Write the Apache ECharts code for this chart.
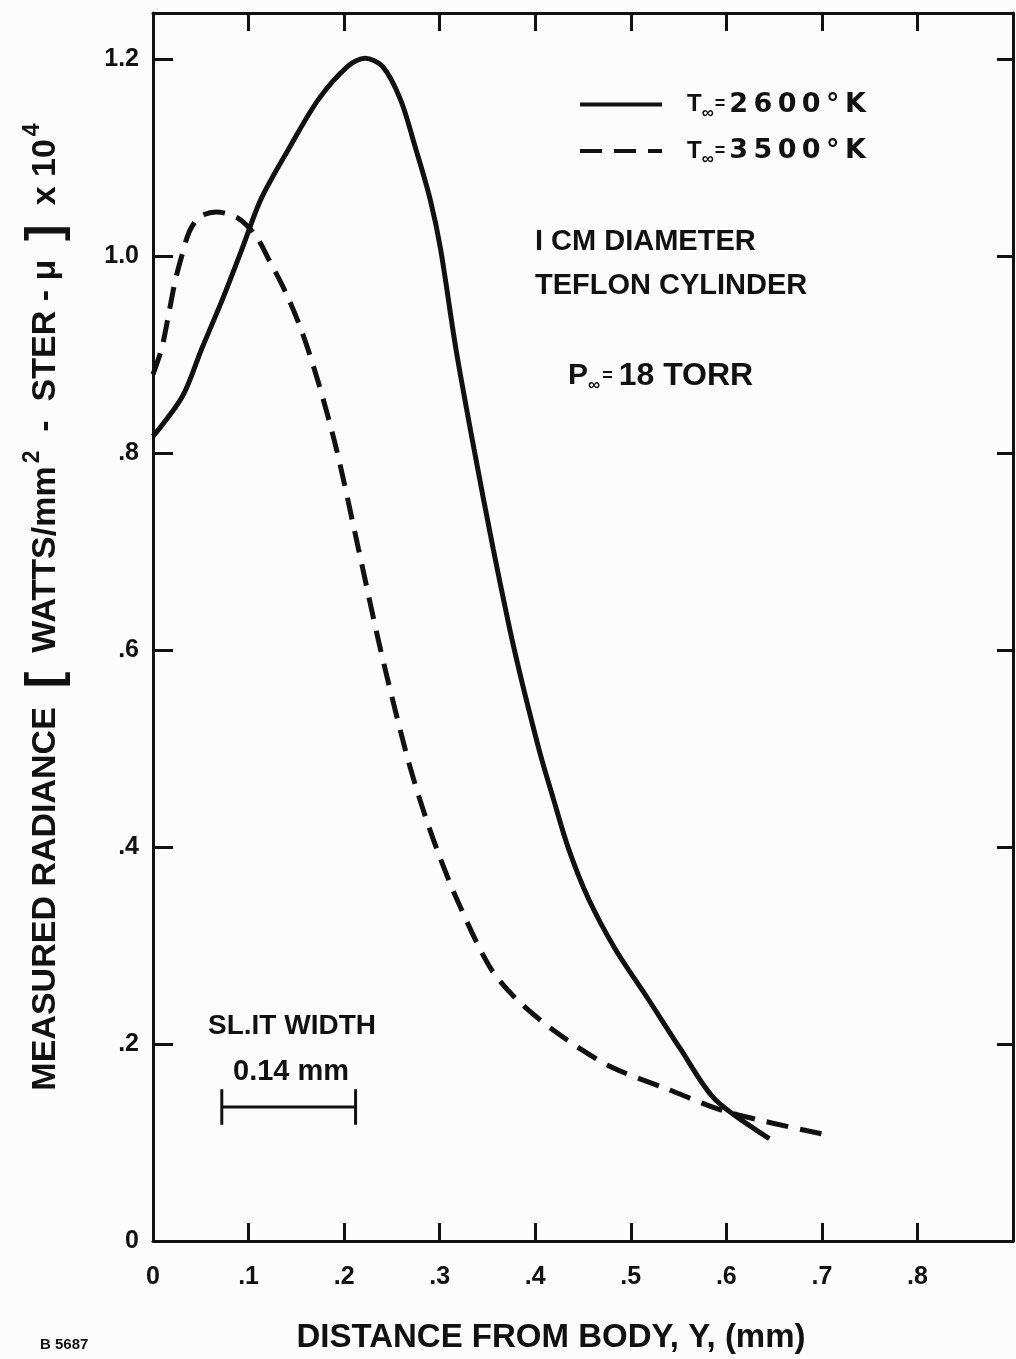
<!DOCTYPE html>
<html>
<head>
<meta charset="utf-8">
<script src="https://cdn.jsdelivr.net/npm/echarts@6/dist/echarts.min.js"></script>
<style>
html,body{margin:0;padding:0;background:#fcfcfc;}
#chart{width:1016px;height:1359px;}
</style>
</head>
<body>
<div id="chart"></div>
<script>
// T = 2600 K (solid)
var dist2600 = [0, 0.031, 0.051, 0.073, 0.093, 0.113, 0.142, 0.173, 0.204, 0.222, 0.240, 0.259, 0.275, 0.290, 0.301, 0.317, 0.336, 0.356, 0.378, 0.404, 0.419, 0.435, 0.456, 0.484, 0.518, 0.552, 0.588, 0.645];
var rad2600  = [0.817, 0.858, 0.906, 0.957, 1.007, 1.058, 1.109, 1.159, 1.193, 1.201, 1.193, 1.159, 1.109, 1.058, 1.007, 0.906, 0.804, 0.703, 0.601, 0.499, 0.449, 0.398, 0.347, 0.296, 0.246, 0.195, 0.144, 0.104];
// T = 3500 K (dashed)
var dist3500 = [0, 0.009, 0.016, 0.023, 0.030, 0.038, 0.049, 0.066, 0.090, 0.108, 0.121, 0.139, 0.156, 0.173, 0.192, 0.215, 0.238, 0.264, 0.279, 0.297, 0.318, 0.352, 0.380, 0.422, 0.477, 0.539, 0.601, 0.709];
var rad3500  = [0.880, 0.906, 0.939, 0.974, 1.000, 1.025, 1.040, 1.045, 1.038, 1.020, 0.997, 0.963, 0.923, 0.872, 0.804, 0.703, 0.601, 0.499, 0.449, 0.398, 0.347, 0.279, 0.246, 0.212, 0.178, 0.154, 0.131, 0.107];
// slit width bar, 0.14 mm
var slitFrom = 0.072;
var slitTo = 0.212;
var slitLevel = 0.136;
var slitCap = 0.018;

var seriesNames = ['T∞ 2600', 'T∞ 3500'];
var legendText = {'T∞ 2600': '2\u20096\u20090\u20090\u2009°\u2009K', 'T∞ 3500': '3\u20095\u20090\u20090\u2009°\u2009K'};

function zip(xs, ys){
    var out = [];
    for (var i = 0; i < xs.length; i++) out.push([xs[i], ys[i]]);
    return out;
}
function tickFmt(v){
    if (v === 0) return '0';
    var s = v.toFixed(1);
    return v < 1 ? s.replace('0.', '.') : s;
}

var slitData = [
    [slitFrom, slitLevel + slitCap], [slitFrom, slitLevel - slitCap], '-',
    [slitFrom, slitLevel], [slitTo, slitLevel], '-',
    [slitTo, slitLevel + slitCap], [slitTo, slitLevel - slitCap]
];

var font = 'Liberation Sans';
var wide = 'DejaVu Sans';
var ink = '#111';
function fs(size, extra){
    var o = {fontSize:size, fontWeight:'bold', fontFamily:font, color:ink};
    for (var k in extra) o[k] = extra[k];
    return o;
}
function gfs(size, extra){
    var o = fs(size, extra);
    o.fill = ink;
    delete o.color;
    return o;
}
function txt(x, y, t, size){
    return {type:'text', left:x, top:y, style:{text:t, fontSize:size || 24, fontWeight:'bold', fontFamily:font, fill:ink}};
}

var myChart = echarts.init(document.getElementById('chart'));
myChart.setOption({
    backgroundColor:'#fcfcfc',
    animation:false,
    grid:{left:153, top:13, width:868, height:1229},
    legend:{
        data:seriesNames,
        orient:'vertical', left:573, top:86, itemGap:16,
        itemWidth:82, itemHeight:24,
        itemStyle:{opacity:0},
        lineStyle:{width:4},
        formatter:function(n){ return '{t|T}{s|∞}{e|=}{v|' + legendText[n] + '}'; },
        textStyle:{padding:[0,0,0,20], rich:{
            t:fs(24, {lineHeight:34}),
            s:fs(17, {verticalAlign:'bottom', padding:[16,0,0,0]}),
            e:fs(18, {padding:[0,4,0,1]}),
            v:fs(27, {fontFamily:wide, lineHeight:34})
        }}
    },
    xAxis:[{
        type:'value', min:0, max:0.9, interval:0.1,
        name:'DISTANCE FROM BODY, Y, (mm)', nameLocation:'middle', nameGap:80,
        nameTextStyle:fs(33, {padding:[0,64,0,0]}),
        axisLine:{show:true, onZero:false, lineStyle:{color:ink, width:3}},
        axisTick:{inside:true, length:18, lineStyle:{color:ink, width:3}},
        axisLabel:fs(25, {formatter:function(v){ return v > 0.85 ? '' : tickFmt(v); }, margin:24}),
        splitLine:{show:false}
    },{
        type:'value', min:0, max:0.9, interval:0.1, position:'top',
        axisLine:{show:true, onZero:false, lineStyle:{color:ink, width:3}},
        axisTick:{inside:true, length:18, lineStyle:{color:ink, width:3}},
        axisLabel:{show:false}, splitLine:{show:false}
    }],
    yAxis:[{
        type:'value', min:0, max:1.247, interval:0.2,
        name:'{a|MEASURED RADIANCE  }{b|[}{a|  WATTS/mm}{p|2}{a|  -  STER - μ  }{b|]}{a|  x 10}{p|4}',
        nameLocation:'middle', nameRotate:90, nameGap:82,
        nameTextStyle:{
            padding:[0,0,0,40],
            rich:{
                a:fs(34),
                b:fs(50),
                p:fs(23, {verticalAlign:'top', padding:[0,0,16,3]})
            }
        },
        axisLine:{show:true, onZero:false, lineStyle:{color:ink, width:3}},
        axisTick:{inside:true, length:20, lineStyle:{color:ink, width:3}},
        axisLabel:fs(25, {formatter:tickFmt, showMaxLabel:false, margin:14}),
        splitLine:{show:false}
    },{
        type:'value', min:0, max:1.247, interval:0.2, position:'right',
        axisLine:{show:true, onZero:false, lineStyle:{color:ink, width:3}},
        axisTick:{inside:true, length:16, lineStyle:{color:ink, width:3}},
        axisLabel:{show:false}, splitLine:{show:false}
    }],
    series:[{
        name:seriesNames[0], type:'line', smooth:0.3, symbol:'none',
        data:zip(dist2600, rad2600),
        itemStyle:{color:ink},
        lineStyle:{color:ink, width:5}
    },{
        name:seriesNames[1], type:'line', smooth:0.3, symbol:'none',
        data:zip(dist3500, rad3500),
        itemStyle:{color:ink},
        lineStyle:{color:ink, width:5, type:[22,12]}
    },{
        name:'slit', type:'line', symbol:'none', data:slitData,
        lineStyle:{color:ink, width:3}
    }],
    graphic:[
        txt(535, 227, 'I CM DIAMETER', 29),
        txt(535, 271, 'TEFLON CYLINDER', 29),
        {type:'text', left:568, top:360, style:{
            text:'{t|P}{s|∞}{e|=}{v|18 TORR}',
            rich:{t:gfs(30), s:gfs(17, {verticalAlign:'bottom', padding:[18,0,0,0]}), e:gfs(18, {padding:[0,6,0,2]}), v:gfs(32)}
        }},
        txt(208, 1012, 'SL.IT WIDTH', 28),
        txt(233, 1057, '0.14 mm', 29),
        txt(40, 1337, 'B 5687', 15)
    ]
});
</script>
</body>
</html>
